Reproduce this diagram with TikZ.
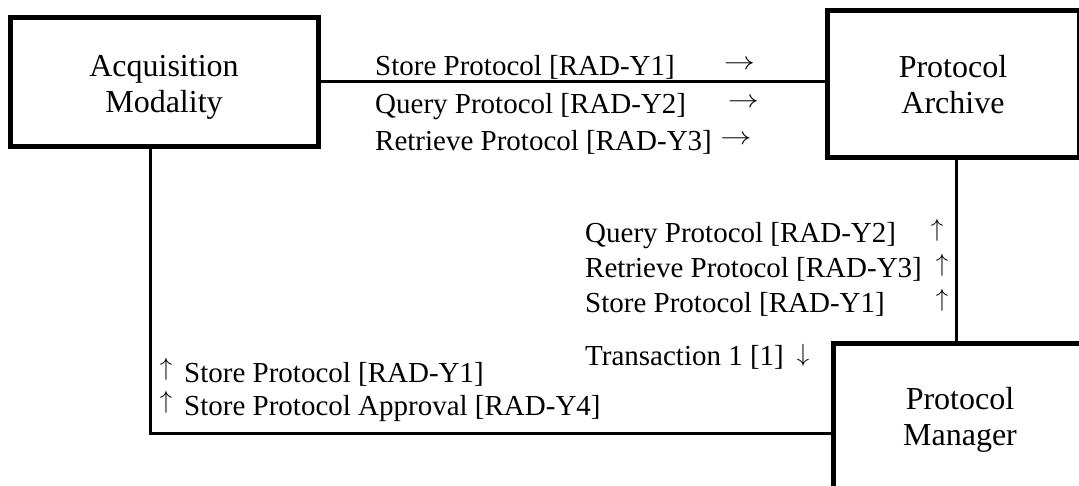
\documentclass[tikz,border=0pt]{standalone}
\usepackage{fontspec}
\setmainfont{Liberation Serif}
\newcommand{\boxtext}[2]{\raisebox{#1}[\height][\depth]{\begin{tabular}{@{}c@{}}#2\end{tabular}}}
\newcommand{\longarr}{\scalebox{1.25}[1]{$\rightarrow$}}
\begin{document}
\begin{tikzpicture}[x=1pt,y=-1pt,
  box/.style={draw, line width=5pt, inner sep=0pt,
    font=\fontsize{32}{36}\selectfont},
  conn/.style={line width=3pt},
  lbl/.style={inner sep=0pt, anchor=base west, font=\fontsize{29}{35}\selectfont},
  arr/.style={inner sep=0pt, anchor=center, font=\fontsize{29}{35}\selectfont}]
\useasboundingbox (0,0) rectangle (1079,485);
\clip (0,0) rectangle (1079,485);
% boxes
\node[box, minimum width=308pt, minimum height=129pt] (acq) at (164,81.5) {\boxtext{-6pt}{Acquisition\\Modality}};
\node[box, minimum width=252pt, minimum height=147pt] (arch) at (953,83.5) {\boxtext{-5pt}{Protocol\\Archive}};
\node[box, minimum width=254pt, minimum height=154pt] (mgr) at (960,420) {\boxtext{0pt}{Protocol\\Manager}};
% connectors
\draw[conn] ([yshift=0.5pt]acq.east) -- ([yshift=0.5pt]acq.east -| arch.west);
\draw[conn] ([xshift=-14pt]acq.south) |- ([yshift=-13pt]mgr.west);
\draw[conn] ([xshift=3pt]arch.south) -- ([xshift=3pt]arch.south |- mgr.north);
% top labels
\node[lbl] (t1) at (375,75) {Store Protocol [RAD-Y1]};
\node[lbl] (t2) at (375,113) {Query Protocol [RAD-Y2]};
\node[lbl] (t3) at (375,150) {Retrieve Protocol [RAD-Y3]};
\node[arr] (a1) at (739.5,65) {\longarr};
\node[arr] (a2) at (743.5,103) {\longarr};
\node[arr] (a3) at (736,140) {\longarr};
% right labels
\node[lbl] (r1) at (585,242) {Query Protocol [RAD-Y2]};
\node[lbl] (r2) at (585,277) {Retrieve Protocol [RAD-Y3]};
\node[lbl] (r3) at (585,312) {Store Protocol [RAD-Y1]};
\node[arr] (u1) at (937,230) {$\uparrow$};
\node[arr] (u2) at (942,265) {$\uparrow$};
\node[arr] (u3) at (942,300) {$\uparrow$};
\node[lbl] (r4) at (585,365) {Transaction 1 [1]};
\node[arr] (d1) at (803,355) {$\downarrow$};
% bottom labels
\node[arr] (bu1) at (166,369) {$\uparrow$};
\node[arr] (bu2) at (166,402) {$\uparrow$};
\node[lbl] (b1) at (184,382) {Store Protocol [RAD-Y1]};
\node[lbl] (b2) at (184,415) {Store Protocol Approval [RAD-Y4]};
\end{tikzpicture}
\end{document}
